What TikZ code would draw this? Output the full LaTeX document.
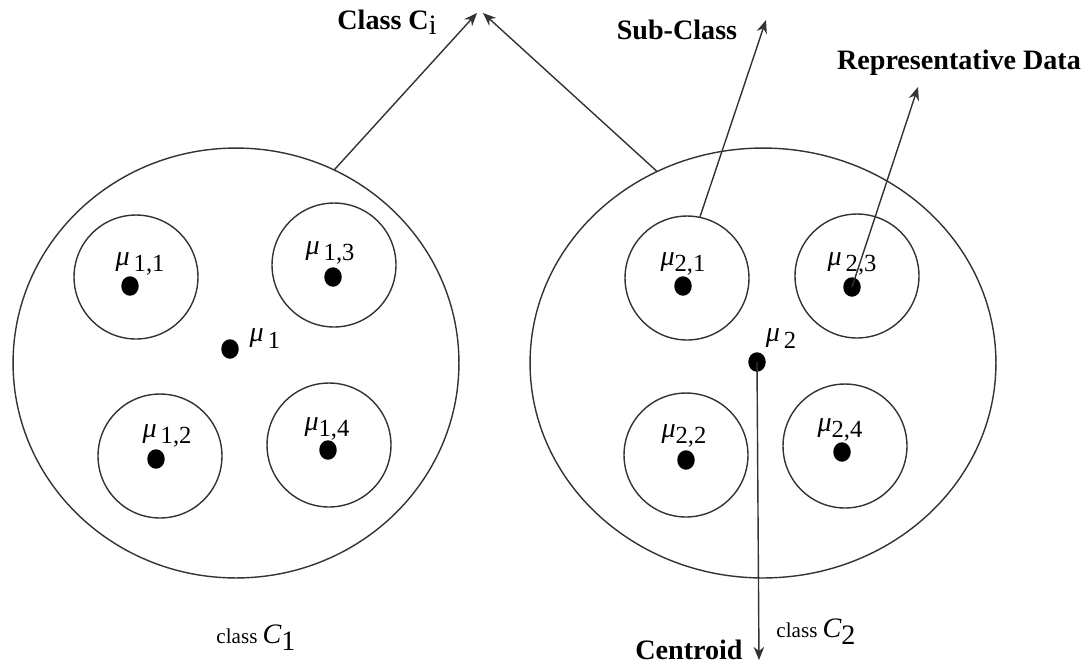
\documentclass[tikz,border=0pt]{standalone}
\usepackage{fontspec}
\setmainfont{Liberation Serif}
\usetikzlibrary{shapes.geometric,arrows.meta}
\begin{document}
\begin{tikzpicture}[x=0.02cm,y=-0.02cm,
  line/.style={draw=black!80, line width=0.8pt},
  bigc/.style={line, ellipse, inner sep=0pt, minimum height=8.6cm},
  subc/.style={line, circle, inner sep=0pt, minimum size=2.48cm},
  dot/.style={fill=black, ellipse, inner sep=0pt, minimum width=0.35cm, minimum height=0.39cm},
  arr/.style={line, -{Stealth[length=7.5pt,width=6pt]}},
  blab/.style={font=\fontsize{16}{18}\selectfont\bfseries, inner sep=0pt},
  mlab/.style={font=\fontsize{14}{16}\selectfont, inner sep=0pt},
  clab/.style={font=\fontsize{12}{14}\selectfont, inner sep=0pt}]
\useasboundingbox (0,0) rectangle (1089,664);
% big classes
\node[bigc, minimum width=8.92cm] (C1) at (236,363) {};
\node[bigc, minimum width=9.32cm] (C2) at (763,363) {};
% sub-classes
\node[subc] (s11) at (136,277) {};
\node[subc] (s13) at (334,265) {};
\node[subc] (s12) at (160,456) {};
\node[subc] (s14) at (329,445) {};
\node[subc] (s21) at (687,278) {};
\node[subc] (s23) at (857,276) {};
\node[subc] (s22) at (686,455) {};
\node[subc] (s24) at (845,446) {};
% dots
\node[dot] (d11) at (130,286) {};
\node[dot] (d13) at (333,277) {};
\node[dot] (d1) at (230,349) {};
\node[dot] (d12) at (156,459) {};
\node[dot] (d14) at (328,450) {};
\node[dot] (d21) at (683,286) {};
\node[dot] (d23) at (852,287) {};
\node[dot] (d2) at (757,362) {};
\node[dot] (d22) at (686,460) {};
\node[dot] (d24) at (842,452) {};
% mu labels
\node[mlab] (l11) at (140,264) {{\fontsize{16}{18}\selectfont\itshape μ}\,\upshape\raisebox{-3pt}{1,1}};
\node[mlab] (l13) at (330,253) {{\fontsize{16}{18}\selectfont\itshape μ}\,\upshape\raisebox{-3pt}{1,3}};
\node[mlab] (l1) at (265,339) {{\fontsize{16}{18}\selectfont\itshape μ}\,\upshape\raisebox{-4pt}{1}};
\node[mlab] (l12) at (167,436) {{\fontsize{16}{18}\selectfont\itshape μ}\,\upshape\raisebox{-3pt}{1,2}};
\node[mlab] (l14) at (327,429) {{\fontsize{16}{18}\selectfont\itshape μ}\upshape\raisebox{-3pt}{1,4}};
\node[mlab] (l21) at (683,264) {{\fontsize{16}{18}\selectfont\itshape μ}\upshape\raisebox{-3pt}{2,1}};
\node[mlab] (l23) at (852,264) {{\fontsize{16}{18}\selectfont\itshape μ}\,\upshape\raisebox{-3pt}{2,3}};
\node[mlab] (l2) at (781,339) {{\fontsize{16}{18}\selectfont\itshape μ}\,\upshape\raisebox{-4pt}{2}};
\node[mlab] (l22) at (684,436) {{\fontsize{16}{18}\selectfont\itshape μ}\upshape\raisebox{-3pt}{2,2}};
\node[mlab] (l24) at (840,430) {{\fontsize{16}{18}\selectfont\itshape μ}\upshape\raisebox{-3pt}{2,4}};
% top texts
\node[blab] (tci) at (387,22) {Class C\textmd{\raisebox{-3pt}{i}}};
\node[blab] (tsub) at (677,30) {Sub-Class};
\node[blab] (trep) at (959,63) {Representative Data};
\node[blab] (tcen) at (689,650) {Centroid};
\node[clab] (tc1) at (256,638) {class \fontsize{16}{18}\selectfont\itshape C\upshape\raisebox{-4pt}{1}};
\node[clab] (tc2) at (816,632) {class \fontsize{16}{18}\selectfont\itshape C\upshape\raisebox{-4pt}{2}};
% arrow ends
\coordinate (apexL) at (477,13);
\coordinate (apexR) at (483,13);
\coordinate (subtip) at (766,20);
\coordinate (reptip) at (918,87);
\coordinate (centip) at (759,660);
% connectors
\draw[arr] (C1.63) -- (apexL);
\draw[arr] (C2.119) -- (apexR);
\draw[arr] (s21.78) -- (subtip);
\draw[arr] (d23.center) -- (reptip);
\draw[arr] (d2.center) -- (centip);
\end{tikzpicture}
\end{document}
